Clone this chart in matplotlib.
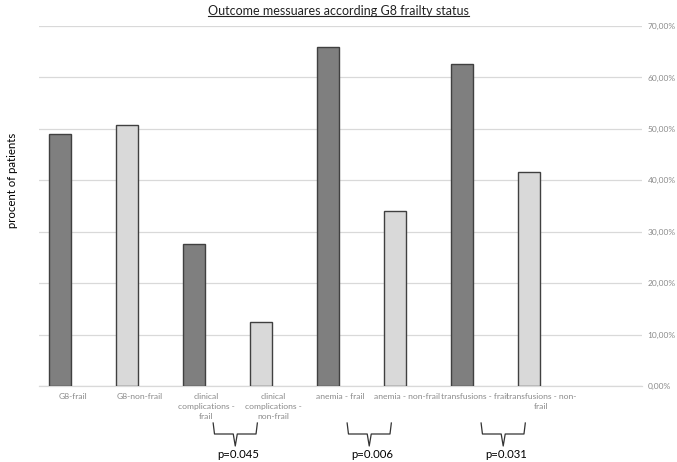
import matplotlib

matplotlib.use("Agg")
import matplotlib.pyplot as plt
import numpy as np
from matplotlib.lines import Line2D
from matplotlib.ticker import FuncFormatter, MultipleLocator
import matplotlib.transforms as mtransforms

TITLE = "Outcome messuares according G8 frailty status"
YLABEL = "procent of patients"

CATEGORIES = [
    "G8-frail",
    "G8-non-frail",
    "clinical\ncomplications -\nfrail",
    "clinical\ncomplications -\nnon-frail",
    "anemia - frail",
    "anemia - non-frail",
    "transfusions - frail",
    "transfusions - non-\nfrail",
    "",
]
VALUES = [49.0, 50.8, 27.7, 12.4, 65.9, 34.0, 62.7, 41.7, np.nan]
STATUS = ["frail", "non-frail"] * 4 + [""]

# brace under pairs of categories: (index of the frail bar, p-value text)
BRACES = [(2, "p=0.045"), (4, "p=0.006"), (6, "p=0.031")]

COLORS = {"frail": "#7f7f7f", "non-frail": "#d9d9d9", "": "none"}
EDGE = "#404040"
GRID = "#d9d9d9"
TICK_GRAY = "#8a8a8a"

plt.rcParams["font.family"] = ["Lato", "DejaVu Sans"]


def main() -> None:
    fig = plt.figure(figsize=(6.77, 4.62), dpi=100)
    ax = fig.add_axes([0.0576, 0.1645, 0.8905, 0.7792])

    x = np.arange(len(CATEGORIES))
    bar_offset = -0.187
    bar_width = 0.32
    ax.bar(
        x + bar_offset,
        VALUES,
        width=bar_width,
        color=[COLORS[s] for s in STATUS],
        edgecolor=EDGE,
        linewidth=1.0,
        zorder=3,
    )

    ax.set_xlim(-0.5, len(CATEGORIES) - 0.5)
    ax.set_ylim(0, 70)
    ax.yaxis.set_major_locator(MultipleLocator(10))
    ax.yaxis.set_major_formatter(
        FuncFormatter(lambda v, _: f"{v:.2f}%".replace(".", ","))
    )
    ax.yaxis.tick_right()
    ax.tick_params(axis="y", length=0, pad=4, labelsize=6.0, labelcolor=TICK_GRAY)
    ax.set_xticks(x)
    ax.set_xticklabels(CATEGORIES, linespacing=1.5)
    ax.tick_params(axis="x", length=0, pad=5, labelsize=6.1, labelcolor=TICK_GRAY)

    ax.grid(axis="y", color=GRID, linewidth=0.9, zorder=0)
    for side in ("left", "right", "top"):
        ax.spines[side].set_visible(False)
    ax.spines["bottom"].set_color(GRID)
    ax.spines["bottom"].set_linewidth(0.9)

    # braces with p-values below the category labels
    trans = mtransforms.blended_transform_factory(ax.transData, fig.transFigure)
    h = 462.0
    y_top = 1 - 423 / h
    y_mid = 1 - 434 / h
    y_tip = 1 - 446 / h
    y_text = 1 - 455 / h
    for idx, label in BRACES:
        left = idx + 0.1
        right = idx + 0.76
        center = (left + right) / 2
        xs = [left, left + 0.02, center - 0.03, center, center + 0.03, right - 0.02, right]
        ys = [y_top, y_mid, y_mid, y_tip, y_mid, y_mid, y_top]
        ax.add_line(
            Line2D(xs, ys, transform=trans, color="#333333", linewidth=0.9, clip_on=False)
        )
        ax.text(center + 0.04, y_text, label, transform=trans, ha="center", va="center",
                fontsize=8.2, color="black")

    fig.text(0.018, 0.61, YLABEL, rotation=90, ha="center", va="center",
             fontsize=8.2, color="black")

    title = fig.text(0.5, 0.976, TITLE, ha="center", va="center", fontsize=9.0,
                     color="#222222")
    fig.canvas.draw()
    bb = title.get_window_extent().transformed(fig.transFigure.inverted())
    fig.add_artist(Line2D([bb.x0, bb.x1], [bb.y0 + 0.002, bb.y0 + 0.002],
                          transform=fig.transFigure, color="#222222", linewidth=0.8))

    fig.savefig("out.png", dpi=100)
    plt.close(fig)


if __name__ == "__main__":
    main()
